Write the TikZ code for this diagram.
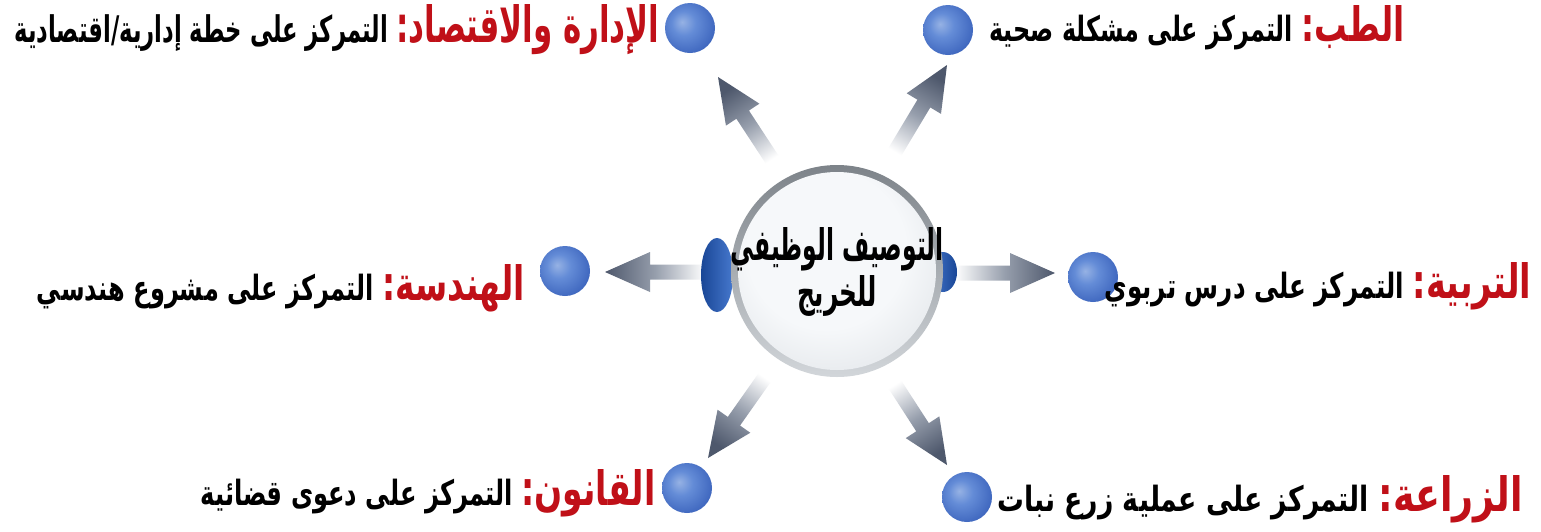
\documentclass[tikz,border=0pt]{standalone}
\usepackage{fontspec}
\usetikzlibrary{calc}
\newfontfamily\arabicfont[Script=Arabic]{DejaVu Sans}
\TeXXeTstate=1
\definecolor{hdred}{RGB}{192,16,24}
\definecolor{arrdark}{RGB}{78,88,108}
\definecolor{arrmid}{RGB}{150,158,172}
\definecolor{rimdark}{RGB}{125,131,137}
\definecolor{rimlight}{RGB}{210,214,218}
\definecolor{glassin}{RGB}{246,248,250}
\definecolor{glassout}{RGB}{205,210,216}
\definecolor{eardark}{RGB}{25,70,150}
\definecolor{earlight}{RGB}{70,120,205}
\definecolor{bl1}{RGB}{150,178,228}
\definecolor{bl2}{RGB}{100,140,215}
\definecolor{bl3}{RGB}{62,102,190}
\definecolor{bl4}{RGB}{45,82,165}
\pgfdeclareradialshading{blueball}{\pgfpoint{-8bp}{6bp}}{color(0bp)=(bl1); color(12bp)=(bl2); color(30bp)=(bl3); color(48bp)=(bl4); color(60bp)=(bl4)}
\pgfdeclareradialshading{glass}{\pgfpoint{-4bp}{8bp}}{color(0bp)=(glassin); color(20bp)=(glassin); color(50bp)=(glassout); color(60bp)=(glassout)}
\newcommand\hd[1]{{\color{hdred}\fontsize{30}{30}\selectfont\beginR #1\endR}}
\newcommand\tx[1]{{\color{black}\beginR #1\endR}}
\newcommand\fatarrow[2]{%
  \pgfmathanglebetweenpoints{\pgfpointanchor{#1}{center}}{\pgfpointanchor{#2}{center}}%
  \pgfmathsetmacro\shang{\pgfmathresult-90}%
  \coordinate (hb) at ($(#2)!45pt!(#1)$);
  \path[arrowfill, shading angle=\shang]
    ($(#1)!7.5pt!90:(#2)$) -- ($(hb)!7.5pt!-90:(#1)$) -- ($(hb)!20pt!-90:(#1)$) --
    (#2) -- ($(hb)!20pt!90:(#1)$) -- ($(hb)!7.5pt!90:(#1)$) -- ($(#1)!7.5pt!-90:(#2)$) -- cycle;}
\tikzset{
  arrowfill/.style={top color=arrdark, bottom color=white, middle color=arrmid},
  dot/.style={circle, minimum size=50pt, inner sep=0pt, shading=blueball},
  lbl/.style={inner sep=0pt, font=\arabicfont\bfseries\fontsize{22}{26}\selectfont},
  ear/.style={left color=eardark, right color=earlight}
}
\begin{document}
\begin{tikzpicture}[x=1pt,y=-1pt]
\useasboundingbox (0,0) rectangle (1541,531);
\fill[white] (0,0) rectangle (1541,531);
% arrow ends
\coordinate (tUL) at (777,167); \coordinate (hUL) at (718,77);
\coordinate (tUR) at (890,160); \coordinate (hUR) at (947,65);
\coordinate (tL) at (705,272);  \coordinate (hL) at (605,272);
\coordinate (tR) at (955,273);  \coordinate (hR) at (1055,273);
\coordinate (tLL) at (770,370); \coordinate (hLL) at (708,458);
\coordinate (tLR) at (890,377); \coordinate (hLR) at (947,465);
\fatarrow{tUL}{hUL}
\fatarrow{tUR}{hUR}
\fatarrow{tL}{hL}
\fatarrow{tR}{hR}
\fatarrow{tLL}{hLL}
\fatarrow{tLR}{hLR}
% ears
\shade[ear] (717,275) ellipse [x radius=16, y radius=37];
\shade[right color=eardark, left color=earlight] (943,272) ellipse [x radius=14, y radius=20];
% central glass circle
\shade[top color=rimdark, bottom color=rimlight] (837,271) circle [radius=106];
\node[circle, minimum size=198pt, inner sep=0pt, shading=glass] (core) at (837,271) {};
\node[inner sep=0pt, align=center, font=\arabicfont\bfseries] (title) at (837,272)
  {\resizebox{213pt}{33pt}{\beginR التوصيف الوظيفي\endR}\\[3pt]\resizebox{80pt}{31pt}{\beginR للخريج\endR}};
% balls
\node[dot] (bUL) at (690,28) {};
\node[dot] (bUR) at (948,30) {};
\node[dot] (bL)  at (565,271) {};
\node[dot] (bR)  at (1093,277) {};
\node[dot] (bLL) at (687,488) {};
\node[dot] (bLR) at (967,497) {};
% labels
\node[lbl] (lUL) at (337,30) {\resizebox{645pt}{38pt}{\tx{التمركز على خطة إدارية/اقتصادية}\hspace{8pt}\hd{الإدارة والاقتصاد:}}};
\node[lbl] (lUR) at (1197,28) {\resizebox{415pt}{36pt}{\tx{التمركز على مشكلة صحية}\hspace{8pt}\hd{الطب:}}};
\node[lbl] (lL) at (281,288) {\resizebox{488pt}{36pt}{\tx{التمركز على مشروع هندسي}\hspace{8pt}\hd{الهندسة:}}};
\node[lbl] (lR) at (1318,286) {\resizebox{427pt}{36pt}{\tx{التمركز على درس تربوي}\hspace{8pt}\hd{التربية:}}};
\node[lbl] (lLL) at (428,493) {\resizebox{455pt}{36pt}{\tx{التمركز على دعوى قضائية}\hspace{8pt}\hd{القانون:}}};
\node[lbl] (lLR) at (1260,499) {\resizebox{525pt}{36pt}{\tx{التمركز على عملية زرع نبات}\hspace{8pt}\hd{الزراعة:}}};
\end{tikzpicture}
\end{document}
